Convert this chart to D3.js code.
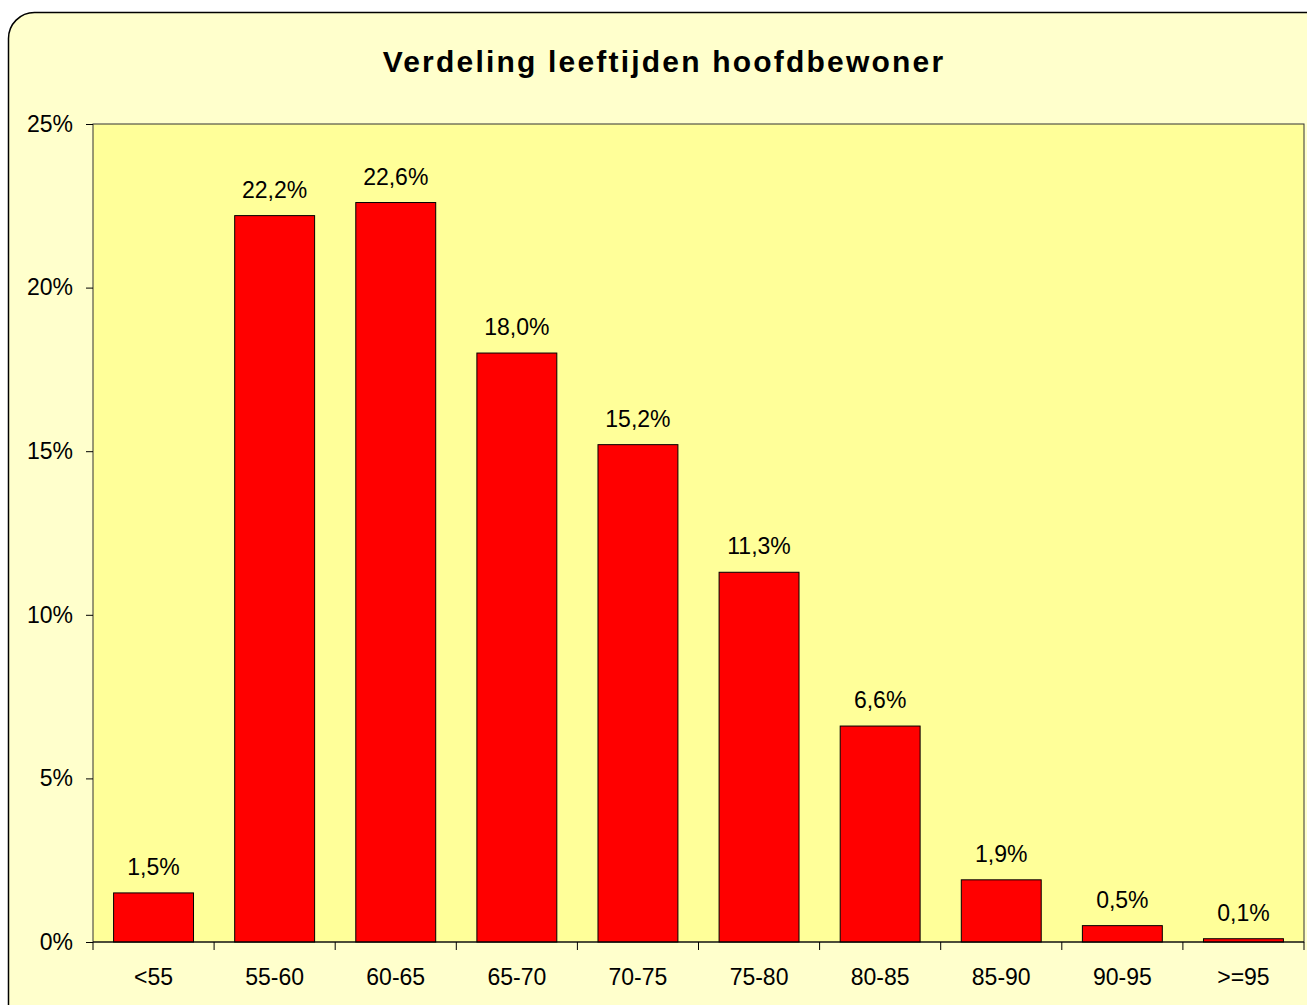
<!DOCTYPE html>
<html>
<head>
<meta charset="utf-8">
<script src="https://cdn.jsdelivr.net/npm/d3@7"></script>
<style>
  body { margin: 0; background: #fff; }
  svg { display: block; font-family: "Liberation Sans", Arial, sans-serif; }
</style>
</head>
<body>
<div id="chart"></div>
<script>
// data
var categories = ["<55", "55-60", "60-65", "65-70", "70-75", "75-80", "80-85", "85-90", "90-95", ">=95"];
var values = [1.5, 22.2, 22.6, 18.0, 15.2, 11.3, 6.6, 1.9, 0.5, 0.1];
var yTicks = [0, 5, 10, 15, 20, 25];
var title = "Verdeling leeftijden hoofdbewoner";

var W = 1307, H = 1005;
var margin = {top: 124, right: 3, bottom: 63, left: 93},
    width = W - margin.left - margin.right,
    height = H - margin.top - margin.bottom;

var svg = d3.select("#chart")
  .append("svg")
    .attr("width", W)
    .attr("height", H);

// outer chart area
svg.append("rect")
  .attr("x", 8.5).attr("y", 12.5)
  .attr("width", W + 30).attr("height", H + 30)
  .attr("rx", 26).attr("ry", 26)
  .style("fill", "#FFFFCC")
  .style("stroke", "#000")
  .style("stroke-width", 1.5);

svg.append("text")
  .attr("x", 664).attr("y", 72)
  .attr("text-anchor", "middle")
  .style("font-size", "30px")
  .style("font-weight", "bold")
  .style("letter-spacing", "2.2px")
  .text(title);

var g = svg.append("g")
  .attr("transform", "translate(" + margin.left + "," + margin.top + ")");

var x = d3.scaleBand()
  .domain(categories)
  .range([0, width])
  .paddingInner(0.34)
  .paddingOuter(0.17);

var y = d3.scaleLinear()
  .domain([0, 25])
  .range([height, 0]);

// plot area
g.append("rect")
  .attr("width", width).attr("height", height)
  .style("fill", "#FFFF99")
  .style("stroke", "#333")
  .style("stroke-width", 1);

// bars
g.selectAll(".bar")
  .data(values)
  .enter()
  .append("rect")
    .attr("class", "bar")
    .attr("x", function(d, i) { return x(categories[i]); })
    .attr("y", function(d) { return y(d); })
    .attr("width", x.bandwidth())
    .attr("height", function(d) { return height - y(d); })
    .style("fill", "#FF0000")
    .style("stroke", "#000")
    .style("stroke-width", 1);

// value labels
g.selectAll(".lbl")
  .data(values)
  .enter()
  .append("text")
    .attr("class", "lbl")
    .attr("x", function(d, i) { return x(categories[i]) + x.bandwidth() / 2; })
    .attr("y", function(d) { return y(d) - 18; })
    .attr("text-anchor", "middle")
    .style("font-size", "23px")
    .text(function(d) { return d.toFixed(1).replace(".", ",") + "%"; });

// y axis
var yAxis = g.append("g")
  .call(d3.axisLeft(y).tickValues(yTicks).tickSize(7).tickPadding(13)
    .tickFormat(function(d) { return d + "%"; }));
yAxis.select(".domain").remove();
yAxis.selectAll("line").style("stroke", "#000");
yAxis.selectAll("text").style("font-size", "23px").style("font-family", "Liberation Sans, Arial, sans-serif");

// x axis: ticks at category boundaries
var xAxis = g.append("g")
  .attr("transform", "translate(0," + height + ")");
xAxis.append("line")
  .attr("x1", 0).attr("x2", width)
  .style("stroke", "#000");
xAxis.selectAll(".tk")
  .data(d3.range(categories.length + 1))
  .enter()
  .append("line")
    .attr("class", "tk")
    .attr("x1", function(i) { return i * x.step(); })
    .attr("x2", function(i) { return i * x.step(); })
    .attr("y1", 0).attr("y2", 8)
    .style("stroke", "#000");
xAxis.selectAll(".cat")
  .data(categories)
  .enter()
  .append("text")
    .attr("class", "cat")
    .attr("x", function(d) { return x(d) + x.bandwidth() / 2; })
    .attr("y", 43)
    .attr("text-anchor", "middle")
    .style("font-size", "23px")
    .text(function(d) { return d; });
</script>
</body>
</html>
